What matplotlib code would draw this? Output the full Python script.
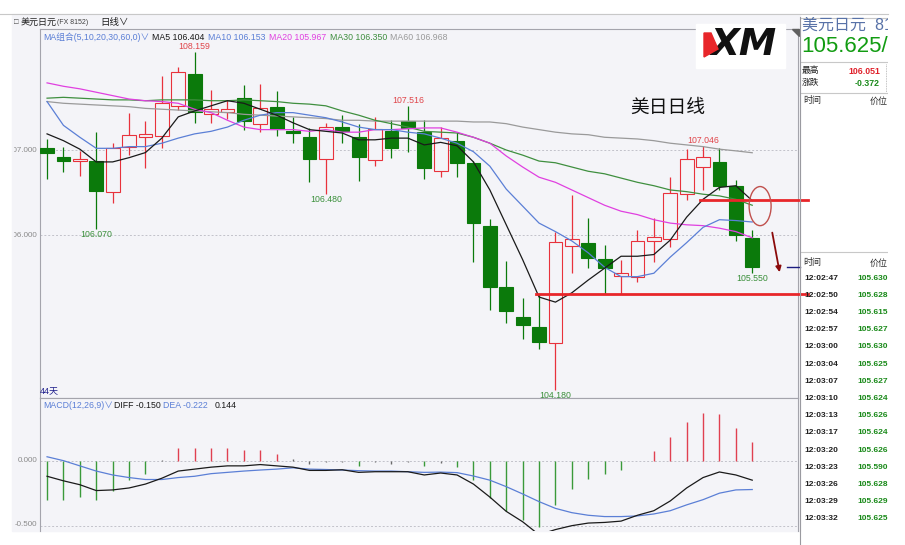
import matplotlib
matplotlib.use('Agg')
import matplotlib.pyplot as plt
from matplotlib.patches import Ellipse, Polygon, Rectangle
from matplotlib.lines import Line2D

plt.rcParams['font.family'] = ['Liberation Sans', 'Noto Sans CJK SC', 'DejaVu Sans']

# USDJPY daily bars, last 44 days
opens = [107.02, 106.92, 106.87, 106.87, 106.51, 107.04, 107.15, 107.16, 107.52, 107.89,
         107.42, 107.45, 107.61, 107.31, 107.51, 107.22, 107.15, 106.89, 107.27, 107.15,
         106.88, 107.22, 107.34, 107.21, 106.75, 107.11, 106.85, 106.11, 105.39, 105.04,
         104.92, 104.73, 105.87, 105.91, 105.72, 105.52, 105.51, 105.93, 105.95, 106.48,
         106.80, 106.86, 106.58, 105.96]
highs = [107.13, 107.04, 106.99, 107.21, 107.08, 107.44, 107.34, 107.87, 107.98, 108.159,
         107.71, 107.59, 107.76, 107.78, 107.69, 107.39, 107.26, 107.32, 107.41, 107.31,
         107.39, 107.35, 107.516, 107.35, 107.27, 107.21, 106.87, 106.19, 105.69, 105.26,
         105.31, 106.04, 106.47, 106.20, 105.88, 105.71, 106.06, 106.20, 106.68, 107.01,
         107.046, 107.02, 106.65, 106.06]
lows = [106.66, 106.74, 106.69, 106.070, 106.38, 106.94, 106.79, 107.02, 107.47, 107.32,
        107.32, 107.36, 107.24, 107.21, 107.16, 107.08, 106.62, 106.480, 107.08, 106.64,
        106.81, 106.91, 106.98, 106.66, 106.68, 106.68, 105.68, 105.12, 104.96, 104.78,
        104.66, 104.180, 105.55, 105.61, 105.31, 105.31, 105.45, 105.68, 105.86, 106.41,
        106.53, 106.53, 105.93, 105.550]
closes = [106.96, 106.87, 106.89, 106.52, 107.02, 107.18, 107.19, 107.55, 107.92, 107.45,
          107.48, 107.48, 107.34, 107.49, 107.25, 107.20, 106.89, 107.27, 107.22, 106.92,
          107.25, 107.02, 107.26, 106.79, 107.14, 106.85, 106.14, 105.39, 105.11, 104.94,
          104.74, 105.92, 105.95, 105.73, 105.61, 105.55, 105.93, 105.98, 106.49, 106.89,
          106.92, 106.58, 106.00, 105.625]

ma5 = [107.19, 107.11, 107.01, 106.86, 106.86, 106.91, 106.97, 107.14, 107.39, 107.46,
       107.52, 107.58, 107.55, 107.48, 107.41, 107.32, 107.24, 107.22, 107.20, 107.12,
       107.12, 107.14, 107.14, 107.06, 107.09, 107.05, 106.86, 106.53, 106.12, 105.71,
       105.27, 105.21, 105.32, 105.47, 105.61, 105.75, 105.75, 105.77, 105.94, 106.21,
       106.42, 106.56, 106.58, 106.404]
ma10 = [107.57, 107.29, 107.15, 107.02, 107.02, 107.04, 107.04, 107.08, 107.14, 107.19,
        107.22, 107.27, 107.35, 107.41, 107.44, 107.44, 107.41, 107.38, 107.33, 107.27,
        107.24, 107.24, 107.21, 107.19, 107.14, 107.08, 106.98, 106.81, 106.54, 106.34,
        106.14, 106.04, 105.93, 105.79, 105.62, 105.51, 105.51, 105.55, 105.74, 105.91,
        106.09, 106.18, 106.17, 106.153]
ma20 = [107.79, 107.75, 107.72, 107.68, 107.64, 107.60, 107.58, 107.57, 107.55, 107.48,
        107.44, 107.35, 107.27, 107.24, 107.24, 107.24, 107.22, 107.24, 107.21, 107.21,
        107.24, 107.24, 107.25, 107.26, 107.26, 107.21, 107.15, 107.08, 106.93, 106.80,
        106.68, 106.62, 106.53, 106.44, 106.35, 106.28, 106.24, 106.18, 106.14, 106.12,
        106.11, 106.08, 106.04, 105.967]
ma30 = [107.61, 107.62, 107.61, 107.60, 107.59, 107.59, 107.58, 107.59, 107.59, 107.59,
        107.58, 107.58, 107.59, 107.58, 107.57, 107.55, 107.54, 107.52, 107.46, 107.41,
        107.35, 107.31, 107.27, 107.22, 107.21, 107.20, 107.15, 107.08, 107.00, 106.94,
        106.87, 106.85, 106.80, 106.75, 106.72, 106.67, 106.62, 106.58, 106.53, 106.51,
        106.48, 106.46, 106.42, 106.350]
ma60 = [107.57, 107.55, 107.54, 107.53, 107.52, 107.51, 107.49, 107.48, 107.47, 107.46,
        107.45, 107.44, 107.42, 107.41, 107.40, 107.39, 107.38, 107.37, 107.35, 107.35,
        107.34, 107.34, 107.34, 107.34, 107.34, 107.34, 107.33, 107.33, 107.31, 107.27,
        107.24, 107.21, 107.19, 107.18, 107.15, 107.14, 107.13, 107.11, 107.08, 107.06,
        107.04, 107.01, 106.99, 106.968]

diff = [-0.120, -0.155, -0.185, -0.230, -0.225, -0.210, -0.180, -0.135, -0.080, -0.065,
        -0.050, -0.040, -0.040, -0.030, -0.040, -0.050, -0.075, -0.075, -0.070, -0.090,
        -0.085, -0.085, -0.085, -0.110, -0.095, -0.110, -0.180, -0.280, -0.390, -0.470,
        -0.570, -0.530, -0.500, -0.480, -0.475, -0.465, -0.420, -0.385, -0.310, -0.210,
        -0.130, -0.087, -0.110, -0.150]
dea = [0.030, 0.000, -0.040, -0.080, -0.110, -0.130, -0.145, -0.145, -0.130, -0.120,
       -0.100, -0.090, -0.080, -0.072, -0.065, -0.055, -0.065, -0.068, -0.072, -0.077,
       -0.080, -0.080, -0.085, -0.090, -0.088, -0.092, -0.118, -0.150, -0.200, -0.256,
       -0.315, -0.367, -0.400, -0.420, -0.430, -0.430, -0.425, -0.410, -0.385, -0.340,
       -0.300, -0.250, -0.225, -0.222]
macd_hist = [-0.30, -0.30, -0.28, -0.30, -0.23, -0.15, -0.10, 0.005, 0.10, 0.10,
             0.10, 0.10, 0.08, 0.08, 0.05, 0.015, -0.025, -0.01, -0.01, -0.04,
             -0.01, -0.025, -0.01, -0.04, -0.02, -0.046, -0.15, -0.29, -0.39, -0.46,
             -0.51, -0.34, -0.22, -0.14, -0.10, -0.07, -0.005, 0.075, 0.18, 0.295,
             0.364, 0.356, 0.254, 0.144]

mark_high = [9, 22, 40]
mark_low = [3, 17, 31, 43]

tick_times = ['12:02:47', '12:02:50', '12:02:54', '12:02:57', '12:03:00', '12:03:04',
              '12:03:07', '12:03:10', '12:03:13', '12:03:17', '12:03:20', '12:03:23',
              '12:03:26', '12:03:29', '12:03:32']
tick_prices = [105.630, 105.628, 105.615, 105.627, 105.630, 105.625, 105.627, 105.624,
               105.626, 105.624, 105.626, 105.590, 105.628, 105.629, 105.625]

day_high = 106.051
day_change = -0.372
resist_level = 106.41
support_level = 105.30

RED = '#e8323c'
GREEN = '#0b7a0b'
BLUE = '#5b7fd6'
BG = '#f4f4f8'

W, H = 905, 545
fig = plt.figure(figsize=(W / 100, H / 100), dpi=100)


def fx(x):
    return x / W


def fy(y):
    return 1 - y / H


def ftext(x, y, s, **kw):
    kw.setdefault('va', 'center')
    return fig.text(fx(x), fy(y), s, **kw)


def fline(x0, y0, x1, y1, **kw):
    fig.add_artist(Line2D([fx(x0), fx(x1)], [fy(y0), fy(y1)], **kw))


fig.add_artist(Rectangle((fx(12), fy(531)), (800 - 12) / W, (531 - 14) / H,
                         color=BG, zorder=-5))
fline(0, 13.5, 888, 13.5, color='#c8c8c8', lw=0.8)

n = len(closes)
idx = list(range(n))
xlim = (-0.43, 45.79)
ylim = (104.082, 108.424)

# ---- price panel
ax = fig.add_axes([fx(40), fy(398), (798 - 40) / W, (398 - 29) / H])
ax.set_facecolor(BG)
ax.set_xlim(*xlim)
ax.set_ylim(*ylim)
ax.set_xticks([])
ax.set_yticks([])
for s in ax.spines.values():
    s.set_color('#a4a4ac')
    s.set_linewidth(0.8)

for lvl in [107.0, 106.0]:
    ax.axhline(lvl, color='#c2c2ca', lw=0.7, ls=(0, (2, 2)), zorder=1)

up = [c >= o for o, c in zip(opens, closes)]
edge = [RED if u else GREEN for u in up]
face = [BG if u else GREEN for u in up]
ax.vlines(idx, lows, highs, colors=edge, lw=0.9, zorder=2)
ax.bar(idx, [max(abs(c - o), 0.01) for o, c in zip(opens, closes)], 0.84,
       bottom=[min(o, c) for o, c in zip(opens, closes)],
       color=face, edgecolor=edge, lw=0.8, zorder=3)

ax.plot(idx, ma60, color='#9a9a9a', lw=0.9, zorder=4)
ax.plot(idx, ma30, color='#3f8f3f', lw=0.9, zorder=4)
ax.plot(idx, ma20, color='#e040e0', lw=0.9, zorder=4)
ax.plot(idx, ma10, color=BLUE, lw=0.9, zorder=4)
ax.plot(idx, ma5, color='#1a1a1a', lw=0.9, zorder=4)

for i in mark_high:
    ax.annotate(f'{highs[i]:.3f}', (i, highs[i]), xytext=(0, 1), textcoords='offset pixels',
                ha='center', va='bottom', fontsize=6.3, color='#e0454a')
for i in mark_low:
    ax.annotate(f'{lows[i]:.3f}', (i, lows[i]), xytext=(0, -1), textcoords='offset pixels',
                ha='center', va='top', fontsize=6.3, color='#3a8f3a')

# hand drawn marks
ax.plot([39.8, 46.4], [resist_level] * 2, color='#e8262a', lw=2.0, clip_on=False, zorder=6)
ax.plot([29.8, 46.4], [support_level] * 2, color='#e8262a', lw=2.0, clip_on=False, zorder=6)
ax.add_patch(Ellipse((43.48, 106.34), 1.34, 0.46, fill=False, edgecolor='#c0504d',
                     lw=1.0, zorder=6, clip_on=False))
ax.annotate('', xy=(44.70, 105.53), xytext=(44.19, 106.06),
            arrowprops=dict(arrowstyle='-|>', color='#8b0a0a', lw=1.3, mutation_scale=8))
ax.plot([45.12, 45.9], [closes[-1]] * 2, color='#1c1c80', lw=1.0, clip_on=False, zorder=5)

ax.text(0.0, 0.005, f'{n}天', transform=ax.transAxes, fontsize=6.5, color='#20208c',
        ha='left', va='bottom')

# clipped price labels on the left
lab = fig.add_axes([fx(14), fy(398), (39 - 14) / W, (398 - 29) / H])
lab.set_xlim(0, 1)
lab.set_ylim(*ylim)
lab.axis('off')
for lvl in [107.0, 106.0]:
    lab.text(0.93, lvl, f'{lvl:.3f}', ha='right', va='center', fontsize=5.8,
             color='#8a8a8a', clip_on=True)

# ---- MACD panel
ax2 = fig.add_axes([fx(40), fy(531), (798 - 40) / W, (531 - 398) / H])
ax2.set_facecolor(BG)
ax2.set_xlim(*xlim)
ax2.set_ylim(-0.541, 0.482)
ax2.set_xticks([])
ax2.set_yticks([])
for k, s in ax2.spines.items():
    s.set_color('#a4a4ac')
    s.set_linewidth(0.8)
ax2.spines['bottom'].set_visible(False)
for lvl in [0.0, -0.5]:
    ax2.axhline(lvl, color='#c2c2ca', lw=0.7, ls=(0, (2, 2)), zorder=1)
hcol = []
for v in macd_hist:
    if abs(v) < 0.03:
        hcol.append('#6a6a6a')
    elif v > 0:
        hcol.append('#e04050')
    else:
        hcol.append('#3a9a3a')
ax2.vlines(idx, 0, macd_hist, colors=hcol, lw=1.0, zorder=2)
ax2.plot(idx, dea, color=BLUE, lw=0.9, zorder=3)
ax2.plot(idx, diff, color='#1a1a1a', lw=0.9, zorder=3)

ftext(37, 461, '0.000', ha='right', fontsize=5.8, color='#8a8a8a')
ftext(37, 525, '-0.500', ha='right', fontsize=5.8, color='#8a8a8a')

# ---- header texts
ftext(14, 22, '□', fontsize=5.5, color='#404040')
ftext(21, 22, '美元日元', fontsize=6.5, color='#202020')
ftext(57, 22, '(FX 8152)', fontsize=5.0, color='#404040')
ftext(100, 22, '日线∨', fontsize=6.8, color='#202020')

ftext(43, 37, 'MA组合(5,10,20,30,60,0)∨', fontsize=6.3, color=BLUE)
ftext(152, 37, f'MA5 {ma5[-1]:.3f}', fontsize=6.3, color='#1a1a1a')
ftext(208, 37, f'MA10 {ma10[-1]:.3f}', fontsize=6.3, color=BLUE)
ftext(269, 37, f'MA20 {ma20[-1]:.3f}', fontsize=6.3, color='#e040e0')
ftext(330, 37, f'MA30 {ma30[-1]:.3f}', fontsize=6.3, color='#3f8f3f')
ftext(390, 37, f'MA60 {ma60[-1]:.3f}', fontsize=6.3, color='#9a9a9a')

ftext(43, 405, 'MACD(12,26,9)∨', fontsize=6.3, color=BLUE)
ftext(114, 405, f'DIFF {diff[-1]:.3f}', fontsize=6.3, color='#1a1a1a')
ftext(163, 405, f'DEA {dea[-1]:.3f}', fontsize=6.3, color=BLUE)
ftext(215, 405, f'{macd_hist[-1]:.3f}', fontsize=6.3, color='#1a1a1a')

ftext(668, 108, '美日日线', fontsize=13.5, ha='center', color='#101010')

# XM logo
fig.add_artist(Rectangle((fx(696), fy(68)), 89 / W, 44 / H, color='white', zorder=5))
ftext(744, 45, 'XM', fontsize=27, fontweight='black', fontstyle='italic',
      family='DejaVu Sans', ha='center', color='#111111', zorder=6)
fig.add_artist(Polygon([(fx(704), fy(33)), (fx(711), fy(33)), (fx(718), fy(49)),
                        (fx(704), fy(57))], closed=True, color='#e8262a', zorder=7))

# ---- right info panel, cut off at x=888 like the screen grab
fline(799.5, 17, 799.5, 545, color='#9a9aa0', lw=0.8)
fig.add_artist(Polygon([(fx(792), fy(29)), (fx(799), fy(29)), (fx(799), fy(36))],
                       closed=True, color='#606060'))
rp = fig.add_axes([fx(800), 0, (888 - 800) / W, fy(17)])
rp.set_xlim(800, 888)
rp.set_ylim(545, 17)
rp.axis('off')


def rtext(x, y, s, **kw):
    kw.setdefault('va', 'center')
    rp.text(x, y, s, clip_on=True, **kw)


def rline(x0, y0, x1, y1, **kw):
    rp.plot([x0, x1], [y0, y1], **kw)


rline(800, 17.5, 888, 17.5, color='#c8c8c8', lw=0.8)
rtext(802, 25, '美元日元  8152', fontsize=11.5, color='#5872a8')
rtext(801, 46, f'{closes[-1]:.3f}/', fontsize=16, color='#129c12')
rline(800, 62, 888, 62, color='#c8c8c8', lw=0.8)
rtext(802, 71, '最高', fontsize=6.3, color='#202020')
rtext(880, 71, f'{day_high:.3f}', fontsize=6.3, fontweight='bold', ha='right', color='#e0202a')
rtext(802, 83, '涨跌', fontsize=6.3, color='#202020')
rtext(880, 83, f'{day_change:.3f}', fontsize=6.3, fontweight='bold', ha='right', color='#1a8a1a')
rline(886, 64, 886, 92, color='#b0b0b0', lw=0.6, ls=(0, (1, 1)))
rline(800, 92.5, 888, 92.5, color='#c8c8c8', lw=0.8)
rtext(803, 101, '时间', fontsize=6.5, color='#303030')
rtext(888, 101, '价位', fontsize=6.5, ha='right', color='#303030')

rline(800, 252, 888, 252, color='#c8c8c8', lw=0.8)
rtext(803, 263, '时间', fontsize=6.5, color='#303030')
rtext(888, 263, '价位', fontsize=6.5, ha='right', color='#303030')
for k, (t, p) in enumerate(zip(tick_times, tick_prices)):
    ry = 278 + k * 17.2
    rtext(804, ry, t, fontsize=6, fontweight='bold', color='#202020')
    rtext(888, ry, f'{p:.3f}', fontsize=6, fontweight='bold', ha='right', color='#1a8a1a')

fig.savefig('out.png', dpi=100)
